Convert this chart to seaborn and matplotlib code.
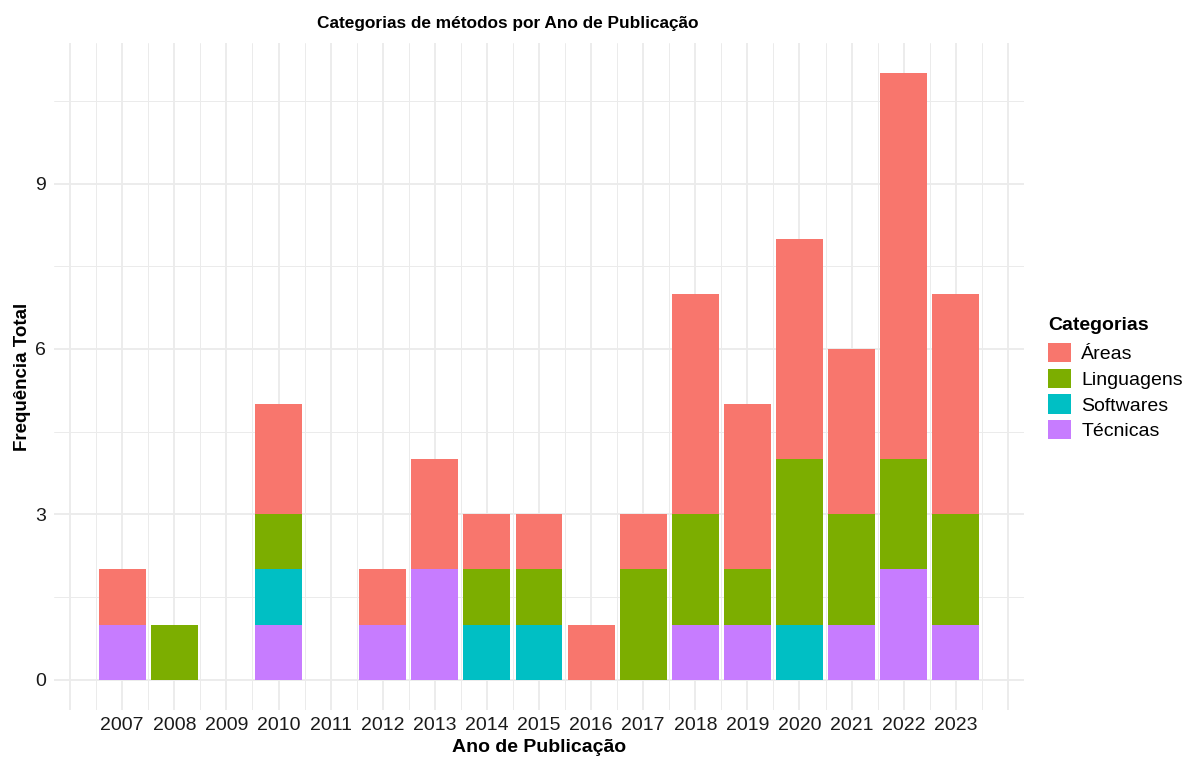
import numpy as np
import pandas as pd
import matplotlib
matplotlib.use("Agg")
import matplotlib.pyplot as plt
import seaborn as sns

# Counts per year, one list per category
years = list(range(2007, 2024))
areas      = [1, 0, 0, 2, 0, 1, 2, 1, 1, 1, 1, 4, 3, 4, 3, 7, 4]
linguagens = [0, 1, 0, 1, 0, 0, 0, 1, 1, 0, 2, 2, 1, 3, 2, 2, 2]
softwares  = [0, 0, 0, 1, 0, 0, 0, 1, 1, 0, 0, 0, 0, 1, 0, 0, 0]
tecnicas   = [1, 0, 0, 1, 0, 1, 2, 0, 0, 0, 0, 1, 1, 0, 1, 2, 1]

categories = ["Áreas", "Linguagens", "Softwares", "Técnicas"]
palette = ["#F8766D", "#7CAE00", "#00BFC4", "#C77CFF"]

df = pd.DataFrame({
    "Ano": years * 4,
    "Categoria": np.repeat(categories, len(years)),
    "Frequencia": areas + linguagens + softwares + tecnicas,
})

sns.set_theme(style="whitegrid")
plt.rcParams["font.family"] = ["Liberation Sans", "DejaVu Sans"]
plt.rcParams["text.color"] = "black"
plt.rcParams["axes.labelcolor"] = "black"

fig = plt.figure(figsize=(11.86, 7.58), dpi=100)
ax = fig.add_axes([54 / 1186, 1 - 710 / 758, 970 / 1186, 667 / 758])

sns.histplot(
    data=df, x="Ano", weights="Frequencia", hue="Categoria",
    hue_order=categories, palette=palette, multiple="stack",
    discrete=True, shrink=0.9, alpha=1, linewidth=0, ax=ax,
)

ax.set_xlim(2005.69, 2024.31)
ax.set_ylim(-0.55, 11.55)

ax.set_xticks(range(2006, 2025))
ax.set_xticklabels([""] + [str(y) for y in years] + [""])
ax.set_xticks(np.arange(2006.5, 2024, 1.0), minor=True)
ax.set_yticks([0, 3, 6, 9])
ax.set_yticks([1.5, 4.5, 7.5, 10.5], minor=True)

ax.set_facecolor("white")
for s in ax.spines.values():
    s.set_visible(False)
ax.grid(which="major", color="#EBEBEB", linewidth=1.3)
ax.grid(which="minor", color="#EBEBEB", linewidth=0.7)
ax.set_axisbelow(True)
ax.tick_params(which="both", length=0)
ax.tick_params(axis="x", labelsize=14, pad=5, colors="#1a1a1a")
ax.tick_params(axis="y", labelsize=14, pad=6, colors="#1a1a1a")

ax.set_xlabel("Ano de Publicação", fontsize=14, fontweight="bold", labelpad=4)
ax.set_ylabel("Frequência Total", fontsize=13.5, fontweight="bold", labelpad=3)
ax.set_title("Categorias de métodos por Ano de Publicação", fontsize=12.4,
             fontweight="bold", x=(508 - 54) / 970, pad=11, color="black")

sns.move_legend(
    ax, "center left", bbox_to_anchor=(1 + 20 / 970, 0.5 - 2 / 667),
    title="Categorias", frameon=False, borderaxespad=0, borderpad=0.22,
    fontsize=14, title_fontproperties={"weight": "bold", "size": 14},
    handlelength=1.15, handleheight=1.15, labelspacing=0.28,
    handletextpad=0.55, alignment="left",
)
# a little more room between the legend title and its keys
ax.get_legend()._legend_box.sep = 6.7

fig.savefig("out.png", dpi=100)
